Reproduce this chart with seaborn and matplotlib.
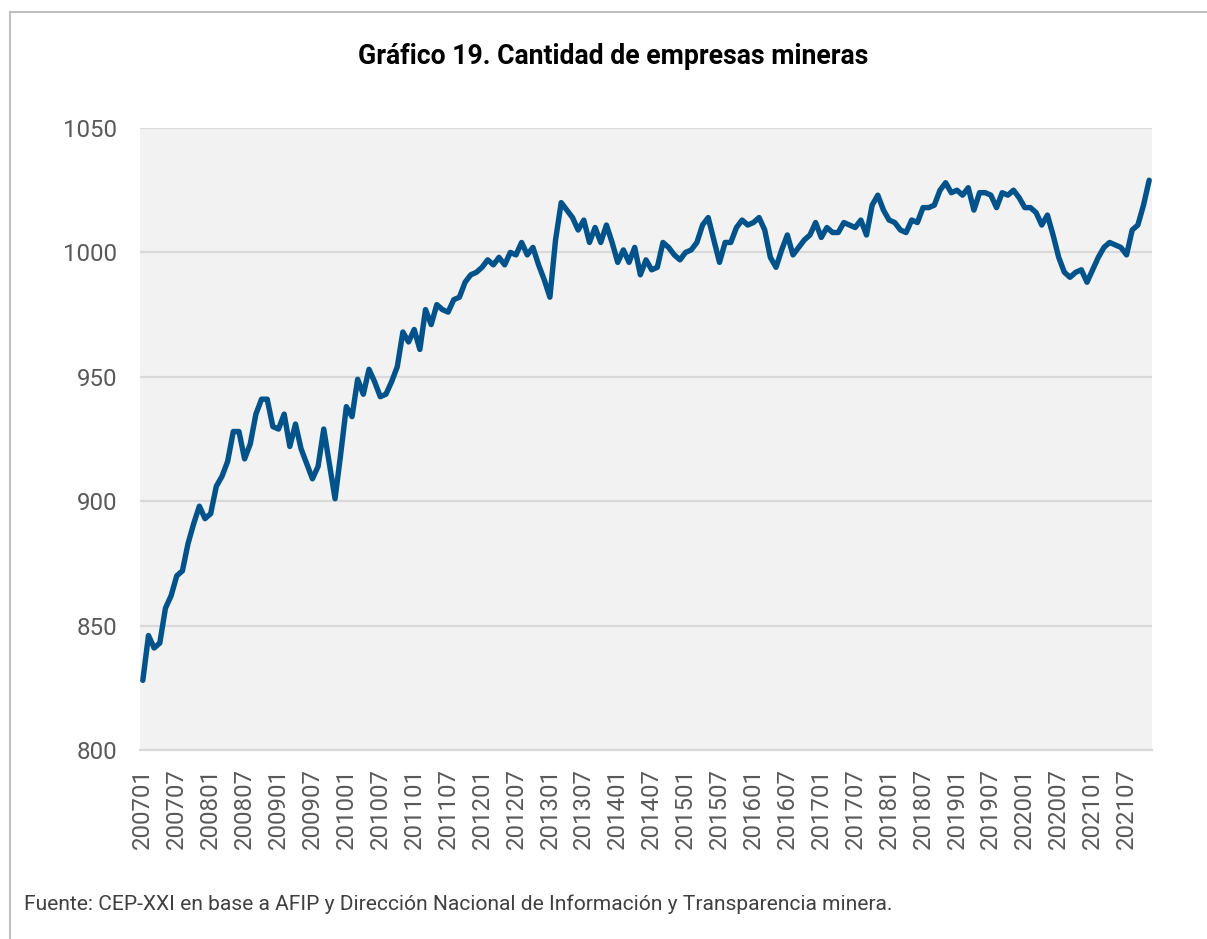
import pandas as pd
import matplotlib.pyplot as plt
import seaborn as sns
from matplotlib.patches import Rectangle

# Cantidad de empresas mineras, mensual 200701 - 202111
periodos = pd.period_range('2007-01', '2021-11', freq='M').strftime('%Y%m').tolist()
empresas = [
    828, 846, 841, 843, 857, 862, 870, 872, 883, 891, 898, 893,
    895, 906, 910, 916, 928, 928, 917, 923, 935, 941, 941, 930,
    929, 935, 922, 931, 921, 915, 909, 914, 929, 915, 901, 919,
    938, 934, 949, 943, 953, 948, 942, 943, 948, 954, 968, 964,
    969, 961, 977, 971, 979, 977, 976, 981, 982, 988, 991, 992,
    994, 997, 995, 998, 995, 1000, 999, 1004, 999, 1002, 995, 989,
    982, 1005, 1020, 1017, 1014, 1009, 1013, 1004, 1010, 1004, 1011, 1004,
    996, 1001, 996, 1002, 991, 997, 993, 994, 1004, 1002, 999, 997,
    1000, 1001, 1004, 1011, 1014, 1005, 996, 1004, 1004, 1010, 1013, 1011,
    1012, 1014, 1009, 998, 994, 1001, 1007, 999, 1002, 1005, 1007, 1012,
    1006, 1010, 1008, 1008, 1012, 1011, 1010, 1013, 1007, 1019, 1023, 1017,
    1013, 1012, 1009, 1008, 1013, 1012, 1018, 1018, 1019, 1025, 1028, 1024,
    1025, 1023, 1026, 1017, 1024, 1024, 1023, 1018, 1024, 1023, 1025, 1022,
    1018, 1018, 1016, 1011, 1015, 1007, 998, 992, 990, 992, 993, 988,
    993, 998, 1002, 1004, 1003, 1002, 999, 1009, 1011, 1019, 1029,
]
y_ticks = [800, 850, 900, 950, 1000, 1050]

df = pd.DataFrame({'periodo': periodos, 'empresas': empresas})
df['pos'] = range(len(df))

sns.set_style('white')
plt.rcParams['font.family'] = ['Roboto', 'DejaVu Sans']

fig = plt.figure(figsize=(12.07, 9.39), dpi=100)
ax = fig.add_axes([140 / 1207, 1 - 750 / 939, 1012 / 1207, 622 / 939])
ax.set_facecolor('#F2F2F2')

sns.lineplot(data=df, x='pos', y='empresas', ax=ax, color='#00538A', linewidth=3.9)

ax.set_xlim(-0.5, len(df) - 0.5)
ax.set_ylim(800, 1050)
ax.set_yticks(y_ticks)
ax.yaxis.grid(True, color='#D9D9D9', linewidth=1.6)
ax.set_axisbelow(True)

pos_ticks = df['pos'][::6]
ax.set_xticks(pos_ticks)
ax.set_xticklabels(df['periodo'][::6], rotation=90, va='top', ha='center')

ax.tick_params(axis='x', length=0, pad=13, labelsize=17.3, labelcolor='#595959')
ax.tick_params(axis='y', length=0, pad=16.5, labelsize=17.3, labelcolor='#595959')
ax.set_xlabel('')
ax.set_ylabel('')
for side in ['top', 'right', 'left']:
    ax.spines[side].set_visible(False)
ax.spines['bottom'].set_color('#D9D9D9')
ax.spines['bottom'].set_linewidth(1.6)

fig.text(613 / 1207, 1 - 57 / 939, 'Gráfico 19. Cantidad de empresas mineras',
         ha='center', va='center', fontsize=19.2, fontweight='bold', color='black')
fig.text(24 / 1207, 1 - 904 / 939,
         'Fuente: CEP-XXI en base a AFIP y Dirección Nacional de Información y Transparencia minera.',
         ha='left', va='center', fontsize=15.1, color='#404040')

fig.patches.append(Rectangle((10 / 1207, -0.05), 1.2, 1 - 12 / 939 + 0.05,
                             transform=fig.transFigure, fill=False,
                             edgecolor='#BFBFBF', linewidth=1.5))

plt.savefig('out.png', dpi=100)
